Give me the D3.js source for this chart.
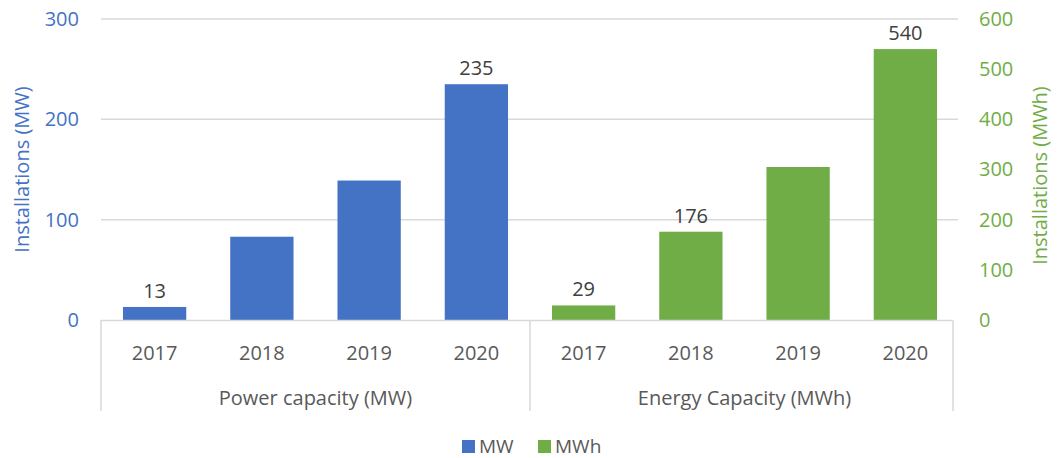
<!DOCTYPE html>
<html>
<head>
<meta charset="utf-8">
<script src="https://cdn.jsdelivr.net/npm/d3@7"></script>
<style>
  body { margin: 0; background: #fff; }
  svg text { font-family: "Open Sans", sans-serif; }
</style>
</head>
<body>
<svg id="chart" width="1057" height="458"></svg>
<script>
const groups = ["Power capacity (MW)", "Energy Capacity (MWh)"]
const years = ["2017", "2018", "2019", "2020"]
const mwValues = [13, 83, 139, 235]
const mwhValues = [29, 176, 305, 540]
// only some bars carry a data label in the original
const mwLabelShown = [true, false, false, true]
const mwhLabelShown = [true, true, false, true]
const leftTicks = [0, 100, 200, 300]
const rightTicks = [0, 100, 200, 300, 400, 500, 600]
const legendItems = ["MW", "MWh"]

const blue = "#4472c4"
const green = "#70ad47"
const grey = "#595959"
const gridColor = "#d9d9d9"

const svg = d3.select("#chart")

const x0 = 101, x1 = 959, yTop = 19, yBase = 320

const xGroup = d3.scaleBand().domain(groups).range([x0, x1])
const xYear = d3.scaleBand().domain(years).range([0, xGroup.bandwidth()])
    .paddingInner(0.41).paddingOuter(0.205)

const yLeft = d3.scaleLinear().domain([0, 300]).range([yBase, yTop])
const yRight = d3.scaleLinear().domain([0, 600]).range([yBase, yTop])

// gridlines
svg.append("g")
    .selectAll("line")
    .data(leftTicks.slice(1))
    .join("line")
    .attr("x1", x0).attr("x2", x1 - 1)
    .attr("y1", d => yLeft(d)).attr("y2", d => yLeft(d))
    .attr("stroke", gridColor).attr("stroke-width", 1.5)

// left axis
const leftAxis = svg.append("g")
    .attr("transform", `translate(${x0 - 22},0)`)
    .call(d3.axisLeft(yLeft).tickValues(leftTicks).tickSize(0).tickPadding(0))
leftAxis.select(".domain").remove()
leftAxis.selectAll("text")
    .attr("fill", blue).attr("font-size", 20)
    .attr("font-family", "Open Sans, sans-serif")

// right axis
const rightAxis = svg.append("g")
    .attr("transform", `translate(${x1 + 20},0)`)
    .call(d3.axisRight(yRight).tickValues(rightTicks).tickSize(0).tickPadding(0))
rightAxis.select(".domain").remove()
rightAxis.selectAll("text")
    .attr("fill", green).attr("font-size", 20)
    .attr("font-family", "Open Sans, sans-serif")

// axis titles
svg.append("text")
    .attr("transform", `translate(21,${(yTop + yBase) / 2}) rotate(-90)`)
    .attr("text-anchor", "middle").attr("dominant-baseline", "central")
    .attr("fill", blue).attr("font-size", 20)
    .text("Installations (MW)")

svg.append("text")
    .attr("transform", `translate(1039,${(yTop + yBase) / 2 + 6}) rotate(-90)`)
    .attr("text-anchor", "middle").attr("dominant-baseline", "central")
    .attr("fill", green).attr("font-size", 20)
    .text("Installations (MWh)")

// bars
const series = [
    { group: groups[0], values: mwValues, shown: mwLabelShown, y: yLeft, color: blue },
    { group: groups[1], values: mwhValues, shown: mwhLabelShown, y: yRight, color: green }
]

series.forEach(s => {
    const g = svg.append("g").attr("transform", `translate(${xGroup(s.group)},0)`)
    const rows = years.map((yr, i) => ({ yr, v: s.values[i], shown: s.shown[i] }))

    g.selectAll("rect")
        .data(rows)
        .join("rect")
        .attr("x", d => xYear(d.yr))
        .attr("width", xYear.bandwidth())
        .attr("y", d => s.y(d.v))
        .attr("height", d => yBase - s.y(d.v))
        .attr("fill", s.color)

    g.selectAll("text.lbl")
        .data(rows.filter(d => d.shown))
        .join("text")
        .attr("class", "lbl")
        .attr("x", d => xYear(d.yr) + xYear.bandwidth() / 2)
        .attr("y", d => s.y(d.v) - 9)
        .attr("text-anchor", "middle")
        .attr("fill", "#404040").attr("font-size", 20)
        .text(d => d.v)

    // year labels
    g.selectAll("text.yr")
        .data(years)
        .join("text")
        .attr("class", "yr")
        .attr("x", d => xYear(d) + xYear.bandwidth() / 2)
        .attr("y", 352)
        .attr("text-anchor", "middle").attr("dominant-baseline", "central")
        .attr("fill", grey).attr("font-size", 20)
        .text(d => d)

    // group label
    g.append("text")
        .attr("x", xGroup.bandwidth() / 2)
        .attr("y", 397)
        .attr("text-anchor", "middle").attr("dominant-baseline", "central")
        .attr("fill", grey).attr("font-size", 20)
        .text(s.group)
})

// category axis line and separators
svg.append("line")
    .attr("x1", x0).attr("x2", x1 - 6)
    .attr("y1", yBase + 0.5).attr("y2", yBase + 0.5)
    .attr("stroke", gridColor).attr("stroke-width", 1.5)

const seps = [x0, xGroup(groups[1]), x1 - 6]
svg.append("g")
    .selectAll("line")
    .data(seps)
    .join("line")
    .attr("x1", d => d).attr("x2", d => d)
    .attr("y1", yBase).attr("y2", 411)
    .attr("stroke", gridColor).attr("stroke-width", 1.5)

// legend
const legendX = [462, 538]
const legend = svg.append("g")
    .selectAll("g")
    .data(legendItems)
    .join("g")
    .attr("transform", (d, i) => `translate(${legendX[i]},440)`)
legend.append("rect")
    .attr("width", 13).attr("height", 13)
    .attr("fill", (d, i) => i === 0 ? blue : green)
legend.append("text")
    .attr("x", 17).attr("y", 13)
    .attr("fill", grey).attr("font-size", 19)
    .text(d => d)
</script>
</body>
</html>
